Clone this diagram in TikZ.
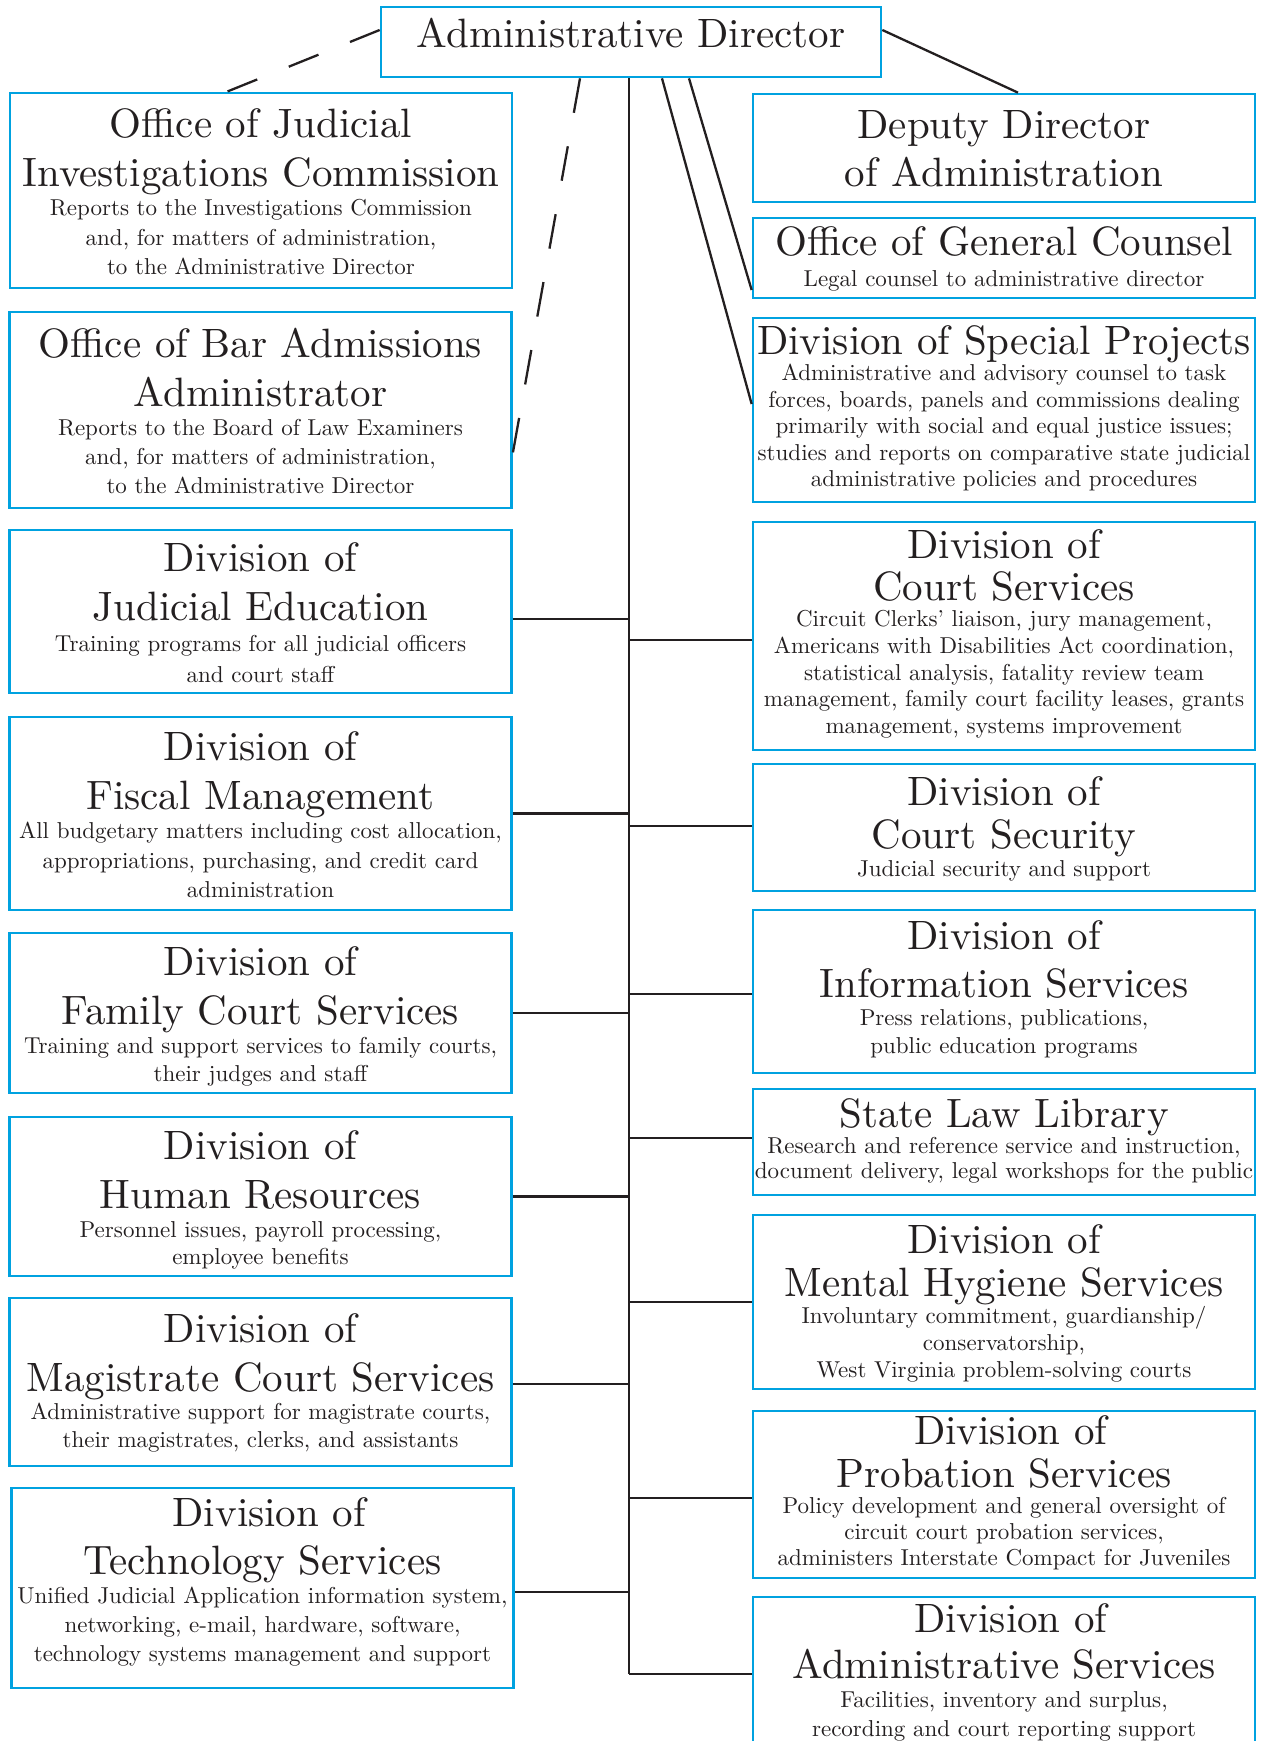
\documentclass[tikz,border=0pt]{standalone}
\usepackage{tikz}
\newlength\ttlskip
\newlength\bdyskip
\font\ttlfnt="[lmroman10-regular]" at 20.5pt
\font\bdyfnt="[lmroman10-regular]" at 11.5pt
\newcommand\ttl[1][.81]{\ttlfnt\vrule height #1\ttlskip depth .19\ttlskip width 0pt\relax}
\newcommand\bdy{\bdyfnt\vrule height .7\bdyskip depth .3\bdyskip width 0pt\relax}
\definecolor{frameblue}{RGB}{0,162,224}
\definecolor{ink}{RGB}{35,31,32}
\tikzset{
  skips/.style 2 args={font={\setlength\ttlskip{#1}\setlength\bdyskip{#2}\baselineskip=0pt\lineskip=0pt\lineskiplimit=0pt}},
  unit/.style={draw=frameblue, line width=1.35pt, text=ink, align=center, inner sep=0pt, minimum width=251pt, skips={24.5pt}{14.5pt}},
  wire/.style={draw=ink, line width=1.15pt}
}
\begin{document}
\begin{tikzpicture}[x=0.5pt, y=-0.5pt]
  \useasboundingbox (0,0) rectangle (1264,1741);
  \coordinate (spine) at (629,0);
  \node[unit, minimum width=250pt, minimum height=35pt, text height=14.5pt, text depth=9.5pt] (ad) at (631,42) {\ttlfnt Administrative Director};

  \node[unit, skips={24.5pt}{14.7pt}, minimum height=97.5pt] (ojic) at (261,190.5) {\ttl Office of Judicial\\\ttl Investigations Commission\\\bdy Reports to the Investigations Commission\\\bdy and, for matters of administration,\\\bdy to the Administrative Director};
  \node[unit, minimum height=98pt] (bar) at (260.5,410) {\ttl Office of Bar Admissions\\\ttl Administrator\\\bdy Reports to the Board of Law Examiners\\\bdy and, for matters of administration,\\\bdy to the Administrative Director};
  \node[unit, skips={24.5pt}{15.5pt}, minimum height=81.5pt] (edu) at (260.5,611.5) {\ttl Division of\\\ttl Judicial Education\\\bdy Training programs for all judicial officers\\\bdy and court staff};
  \node[unit, skips={24.5pt}{14.7pt}, minimum height=96.5pt] (fiscal) at (260.5,813.5) {\ttl Division of\\\ttl Fiscal Management\\\bdy All budgetary matters including cost allocation,\\\bdy appropriations, purchasing, and credit card\\\bdy administration};
  \node[unit, skips={24.5pt}{13.9pt}, minimum height=80pt] (family) at (260.5,1013) {\ttl Division of\\\ttl Family Court Services\\\bdy Training and support services to family courts,\\\bdy their judges and staff};
  \node[unit, skips={24.5pt}{13.9pt}, minimum height=79.5pt] (hr) at (260.5,1196.5) {\ttl Division of\\\ttl Human Resources\\\bdy Personnel issues, payroll processing,\\\bdy employee benefits};
  \node[unit, skips={24.5pt}{13.9pt}, minimum height=84pt] (magis) at (260.5,1382) {\ttl Division of\\\ttl Magistrate Court Services\\\bdy Administrative support for magistrate courts,\\\bdy their magistrates, clerks, and assistants\\[2.8pt]};
  \node[unit, skips={24pt}{14.5pt}, minimum height=100pt] (tech) at (262.5,1588) {\ttl[.6] Division of\\\ttl Technology Services\\\bdy Unified Judicial Application information system,\\\bdy networking, e-mail, hardware, software,\\\bdy technology systems management and support\\[4.4pt]};

  \node[unit, skips={24pt}{14pt}, minimum height=54pt] (deputy) at (1004,148) {\ttl Deputy Director\\\ttl of Administration};
  \node[unit, skips={20pt}{11.5pt}, minimum height=40pt] (counsel) at (1004,258) {\ttl Office of General Counsel\\[3.6pt]\bdy Legal counsel to administrative director};
  \node[unit, skips={10pt}{13.25pt}, minimum height=92pt] (projects) at (1004,410) {\ttl Division of Special Projects\\\bdy Administrative and advisory counsel to task\\\bdy forces, boards, panels and commissions dealing\\\bdy primarily with social and equal justice issues;\\\bdy studies and reports on comparative state judicial\\\bdy administrative policies and procedures};
  \node[unit, skips={21pt}{13.3pt}, minimum height=114pt] (courtsvc) at (1004,636) {\ttl Division of\\\ttl Court Services\\\bdy Circuit Clerks’ liaison, jury management,\\\bdy Americans with Disabilities Act coordination,\\\bdy statistical analysis, fatality review team\\\bdy management, family court facility leases, grants\\\bdy management, systems improvement\\[3.3pt]};
  \node[unit, skips={21.5pt}{14pt}, minimum height=63.5pt] (security) at (1004,827.5) {\ttl Division of\\\ttl Court Security\\\bdy Judicial security and support};
  \node[unit, skips={24pt}{13.9pt}, minimum height=81.5pt] (info) at (1004,991.5) {\ttl Division of\\\ttl Information Services\\\bdy Press relations, publications,\\\bdy public education programs\\[5.5pt]};
  \node[unit, skips={10pt}{12.5pt}, minimum height=53pt] (library) at (1004,1142) {\ttl State Law Library\\\bdy Research and reference service and instruction,\\\bdy document delivery, legal workshops for the public};
  \node[unit, skips={21.5pt}{13.3pt}, minimum height=87pt] (hygiene) at (1004,1302) {\ttl Division of\\\ttl Mental Hygiene Services\\\bdy Involuntary commitment, guardianship/\\\bdy conservatorship,\\\bdy West Virginia problem-solving courts};
  \node[unit, skips={21.5pt}{13pt}, minimum height=83.5pt] (probation) at (1004,1494.5) {\ttl[.65] Division of\\\ttl Probation Services\\\bdy Policy development and general oversight of\\\bdy circuit court probation services,\\\bdy administers Interstate Compact for Juveniles};
  \node[unit, skips={23pt}{14.5pt}, minimum height=79pt] (adminsvc) at (1004,1676) {\ttl[.64] Division of\\\ttl Administrative Services\\\bdy Facilities, inventory and surplus,\\\bdy recording and court reporting support\\[2pt]};

  \coordinate (tail) at ([yshift=1pt]adminsvc.west);
  \draw[wire] (ad.south -| spine) -- (tail -| spine);
  \foreach \n/\dy in {edu/-3.75pt, fiscal/0pt, family/0pt, hr/0pt, magis/-1pt, tech/-2pt}
    \draw[wire] ([yshift=\dy]\n.east) coordinate (tap) -- (tap -| spine);
  \foreach \n/\dy in {courtsvc/-2pt, security/0.75pt, info/-1.25pt, library/2pt, hygiene/0pt, probation/-1.75pt, adminsvc/1pt}
    \draw[wire] ([yshift=\dy]\n.west) coordinate (tap) -- (tap -| spine);

  \draw[wire, dash pattern=on 16pt off 17pt] ([yshift=6pt]ad.west) -- ([xshift=-17pt]ojic.north);
  \draw[wire, dash pattern=on 17.5pt off 17pt] ([xshift=-25.5pt]ad.south) -- ([yshift=-21.5pt]bar.east);
  \draw[wire] ([yshift=6pt]ad.east) -- ([xshift=7pt]deputy.north);
  \draw[wire] ([xshift=15.5pt]ad.south) -- ([yshift=3pt]projects.west);
  \draw[wire] ([xshift=29pt]ad.south) -- ([yshift=-16pt]counsel.west);
\end{tikzpicture}
\end{document}
